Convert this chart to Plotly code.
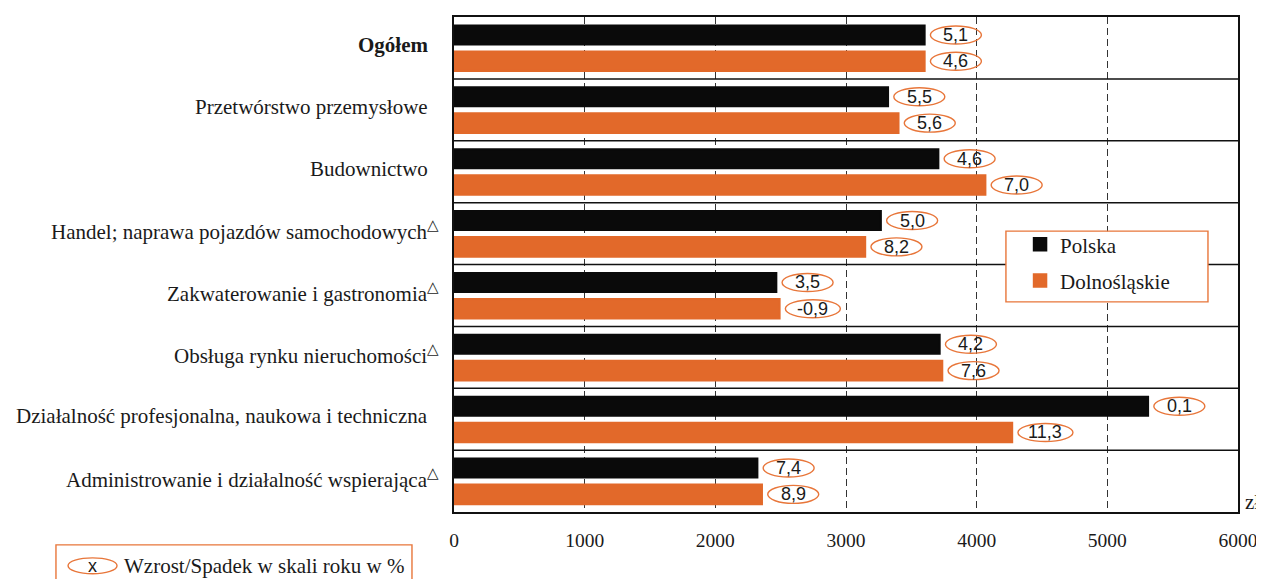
import plotly.graph_objects as go

categories = [
    "Ogółem",
    "Przetwórstwo przemysłowe",
    "Budownictwo",
    "Handel; naprawa pojazdów samochodowych",
    "Zakwaterowanie i gastronomia",
    "Obsługa rynku nieruchomości",
    "Działalność profesjonalna, naukowa i techniczna",
    "Administrowanie i działalność wspierająca",
]
triangle = [False, False, False, True, True, True, False, True]
polska = [3600, 3320, 3705, 3265, 2465, 3715, 5310, 2320]
dolnoslaskie = [3600, 3400, 4065, 3145, 2490, 3735, 4270, 2355]
polska_change = ["5,1", "5,5", "4,6", "5,0", "3,5", "4,2", "0,1", "7,4"]
dolnoslaskie_change = ["4,6", "5,6", "7,0", "8,2", "-0,9", "7,6", "11,3", "8,9"]
x_ticks = [0, 1000, 2000, 3000, 4000, 5000, 6000]

BLACK = "#0A0A0A"
ORANGE = "#E2692A"
ELL = "#E8763A"
SERIF = "Liberation Serif, Times New Roman, serif"
SANS = "Liberation Sans, Arial, sans-serif"

idx = list(range(len(categories)))

fig = go.Figure()
fig.add_trace(go.Bar(
    y=idx, x=polska, orientation="h", name="Polska", legendgroup="p",
    marker=dict(color=BLACK, line=dict(width=2.5, color=BLACK)),
    width=0.30, offset=-0.36, hoverinfo="x",
))
fig.add_trace(go.Bar(
    y=idx, x=dolnoslaskie, orientation="h", name="Dolnośląskie", legendgroup="d",
    marker=dict(color=ORANGE, line=dict(width=2.5, color=ORANGE)),
    width=0.31, offset=0.06, hoverinfo="x",
))

shapes = []
annotations = []

# value labels in ellipses
for vals, labels, yoff in ((polska, polska_change, -0.21), (dolnoslaskie, dolnoslaskie_change, 0.215)):
    for i, (v, t) in enumerate(zip(vals, labels)):
        w = 51 + 4 * (len(t) - 3)
        shapes.append(dict(
            type="circle", xref="x", yref="y",
            xsizemode="pixel", ysizemode="pixel",
            xanchor=v, yanchor=i + yoff,
            x0=6, x1=6 + w, y0=-9, y1=9,
            line=dict(color=ELL, width=1.4), fillcolor="rgba(255,255,255,0)",
            layer="above",
        ))
        annotations.append(dict(
            x=v, y=i + yoff, xref="x", yref="y", text=t, showarrow=False,
            xanchor="center", yanchor="middle", xshift=6 + w / 2,
            font=dict(family=SANS, size=18, color="#1a1a1a"),
        ))

# row separators
for i in range(len(categories) - 1):
    shapes.append(dict(
        type="line", xref="paper", yref="y", x0=0, x1=1, y0=i + 0.5, y1=i + 0.5,
        line=dict(color="#111111", width=1.5), layer="above",
    ))

# category labels
for i, (c, tri) in enumerate(zip(categories, triangle)):
    txt = f"<b>{c}</b>" if i == 0 else c
    if tri:
        txt += "<sup>△</sup>"
    annotations.append(dict(
        x=0, y=i, xref="paper", yref="y", text=txt, showarrow=False,
        xanchor="right", yanchor="middle", xshift=-24 if not tri else -13,
        yshift=3,
        font=dict(family=SERIF, size=21, color="#1a1a1a"),
    ))

# unit label
annotations.append(dict(
    x=1, y=0, xref="paper", yref="paper", text="zł", showarrow=False,
    xanchor="left", yanchor="bottom", xshift=5, yshift=-4,
    font=dict(family=SERIF, size=21, color="#1a1a1a"),
))

# legend frame (white box with orange border)
shapes.append(dict(
    type="rect", xref="paper", yref="paper",
    x0=0.704, x1=0.9617, y0=0.5674, y1=0.4245,
    line=dict(color=ELL, width=1.4), fillcolor="white", layer="above",
))

# bottom-left note box
shapes.append(dict(
    type="rect", xref="paper", yref="paper",
    x0=-0.5077, x1=-0.0536, y0=-0.0664, y1=-0.16,
    line=dict(color=ELL, width=1.4), fillcolor="white", layer="above",
))
shapes.append(dict(
    type="circle", xref="paper", yref="paper",
    x0=-0.4923, x1=-0.4298, y0=-0.0926, y1=-0.1247,
    line=dict(color=ELL, width=1.4), layer="above",
))
annotations.append(dict(
    x=-0.4610, y=-0.1087, xref="paper", yref="paper", text="x", showarrow=False,
    xanchor="center", yanchor="middle",
    font=dict(family=SANS, size=18, color="#1a1a1a"),
))
annotations.append(dict(
    x=-0.4235, y=-0.1087, xref="paper", yref="paper",
    text="Wzrost/Spadek w skali roku w %", showarrow=False,
    xanchor="left", yanchor="middle",
    font=dict(family=SERIF, size=21, color="#1a1a1a"),
))

fig.update_layout(
    width=1264, height=579,
    margin=dict(l=446, r=34, t=7, b=75),
    paper_bgcolor="white", plot_bgcolor="white",
    barmode="overlay",
    showlegend=True,
    legend=dict(
        x=0.722, y=0.5815, xanchor="left", yanchor="top",
        borderwidth=0, bgcolor="rgba(0,0,0,0)",
        font=dict(family=SERIF, size=21, color="#1a1a1a"),
        tracegroupgap=6, itemwidth=30,
    ),
    xaxis=dict(
        range=[0, 6000], tickvals=x_ticks, ticktext=[str(t) for t in x_ticks],
        showgrid=True, gridcolor="#333333", gridwidth=1, griddash="7px,4px",
        showline=True, linecolor="#111111", linewidth=2, mirror=True,
        ticks="", zeroline=False,
        tickfont=dict(family=SERIF, size=19.5, color="#1a1a1a"),
        ticklabelstandoff=10,
    ),
    yaxis=dict(
        range=[7.5, -0.5], showticklabels=False, showgrid=False, zeroline=False,
        showline=True, linecolor="#111111", linewidth=2, mirror=True, ticks="",
    ),
    shapes=shapes,
    annotations=annotations,
)

fig.write_html("out.html")
